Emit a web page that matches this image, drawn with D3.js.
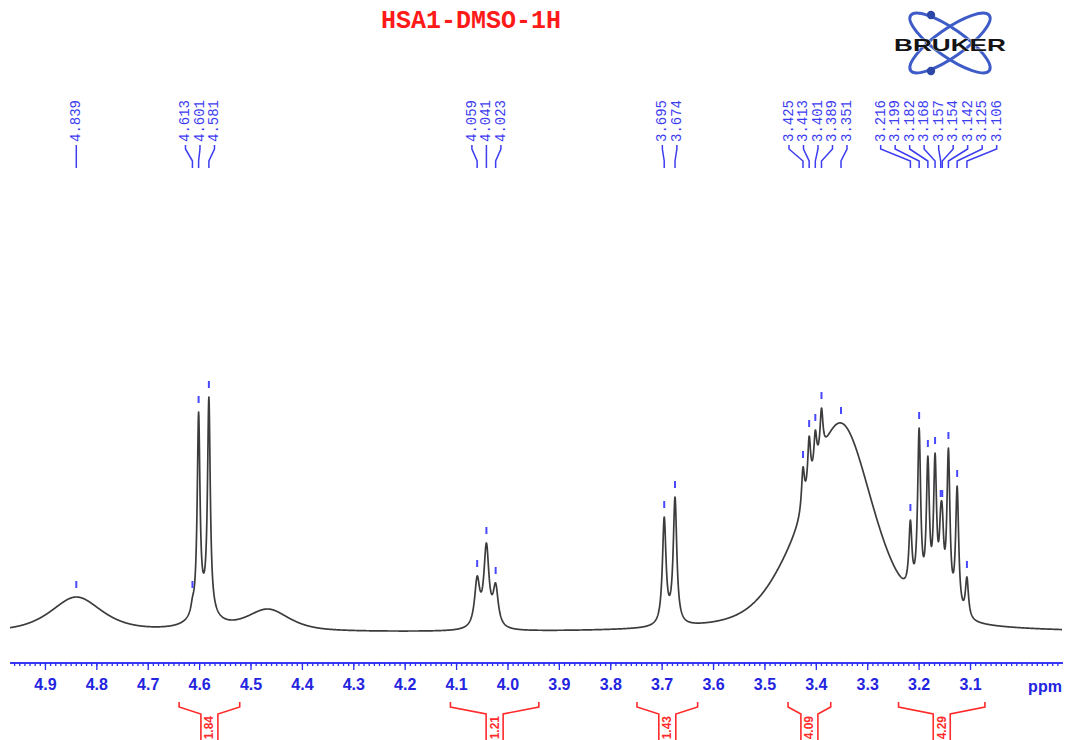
<!DOCTYPE html>
<html><head><meta charset="utf-8">
<script src="https://cdn.jsdelivr.net/npm/d3@7"></script>
<style>body{margin:0;background:#fff}svg{display:block}</style>
</head><body>
<svg id="chart" width="1065" height="740"></svg>
<script>
// ---- 1H NMR peak list (chemical shift in ppm) ----
const peakPpm     = [4.839, 4.613, 4.601, 4.581, 4.466, 4.059, 4.041, 4.023, 3.695, 3.674,
                     3.425, 3.413, 3.401, 3.389, 3.351, 3.216, 3.199, 3.182, 3.168, 3.157,
                     3.154, 3.142, 3.125, 3.106];
// apparent peak heights above baseline (intensity units)
const peakHeight  = [36, 36, 221, 236, 24, 57, 90, 50, 116, 136,
                     166, 197, 203, 225, 210, 113, 205, 177, 180, 127,
                     127, 185, 147, 56];
// half width at half maximum (ppm)
const peakWidth   = [0.06, 0.0035, 0.0032, 0.0032, 0.05, 0.006, 0.006, 0.006, 0.0042, 0.0042,
                     0.0034, 0.0034, 0.0034, 0.0034, 0.075, 0.0036, 0.0036, 0.0036, 0.0036, 0.0036,
                     0.0036, 0.0036, 0.0036, 0.0036];
// Lorentzian fraction of the pseudo-Voigt line shape
const peakEta     = [0.7, 1, 1, 1, 0.7, 1, 1, 1, 1, 1,
                     1, 1, 1, 1, 0.5, 1, 1, 1, 1, 1,
                     1, 1, 1, 1];
const peakLabeled = [true, true, true, true, false, true, true, true, true, true,
                     true, true, true, true, true, true, true, true, true, true,
                     true, true, true, true];

// broad underlying components
const bgPpm   = [4.59, 3.46];
const bgAmp   = [18, 20];
const bgWidth = [0.025, 0.06];
const bgEta   = [1, 0.5];

// integral regions
const integralFrom  = [4.639, 4.111, 3.748, 3.454, 3.239];
const integralTo    = [4.521, 3.939, 3.630, 3.371, 3.071];
const integralValue = ["1.84", "1.21", "1.43", "4.09", "4.29"];

// axis ticks
const majorTicks = [4.9, 4.8, 4.7, 4.6, 4.5, 4.4, 4.3, 4.2, 4.1, 4.0, 3.9, 3.8, 3.7, 3.6, 3.5, 3.4, 3.3, 3.2, 3.1];
const minorTicks = d3.range(293, 497).map(v => v / 100);

const title = "HSA1-DMSO-1H";

// ---- scales ----
const svg = d3.select("#chart");
const x = d3.scaleLinear().domain([4.968, 2.921]).range([10, 1062]);
const y = d3.scaleLinear().domain([0, 250]).range([633, 383]);

function shape(d, w, eta) {
  const r = (d / w) * (d / w);
  return eta / (1 + r) + (1 - eta) * Math.exp(-Math.LN2 * r);
}
function background(p) {
  let s = 0;
  for (let k = 0; k < bgPpm.length; k++) s += bgAmp[k] * shape(p - bgPpm[k], bgWidth[k], bgEta[k]);
  return s;
}

// amplitudes so that the summed spectrum reaches each apparent height at its shift
const n = peakPpm.length;
const M = [];
for (let i = 0; i < n; i++) {
  const row = [];
  for (let j = 0; j < n; j++) row.push(shape(peakPpm[i] - peakPpm[j], peakWidth[j], peakEta[j]));
  row.push(peakHeight[i] - background(peakPpm[i]));
  M.push(row);
}
for (let c = 0; c < n; c++) {
  let piv = c;
  for (let r = c + 1; r < n; r++) if (Math.abs(M[r][c]) > Math.abs(M[piv][c])) piv = r;
  [M[c], M[piv]] = [M[piv], M[c]];
  for (let r = 0; r < n; r++) {
    if (r === c) continue;
    const f = M[r][c] / M[c][c];
    for (let k = c; k <= n; k++) M[r][k] -= f * M[c][k];
  }
}
const amp = M.map((row, i) => row[n] / row[i]);

function spectrum(p) {
  let s = background(p);
  for (let j = 0; j < n; j++) s += amp[j] * shape(p - peakPpm[j], peakWidth[j], peakEta[j]);
  return s;
}

const samples = d3.range(4.968, 2.9205, -0.0005).map(p => [p, spectrum(p)]);

// ---- spectrum ----
svg.append("path")
  .datum(samples)
  .attr("fill", "none")
  .attr("stroke", "#3c3c3c")
  .attr("stroke-width", 1.7)
  .attr("stroke-linejoin", "round")
  .attr("d", d3.line().x(d => x(d[0])).y(d => y(d[1])));

// peak pick markers
const labeled = peakPpm.map((p, i) => ({ p, h: peakHeight[i], on: peakLabeled[i] })).filter(d => d.on);
svg.append("g").selectAll("line").data(labeled).join("line")
  .attr("x1", d => x(d.p)).attr("x2", d => x(d.p))
  .attr("y1", d => y(d.h) - 16).attr("y2", d => y(d.h) - 9)
  .attr("stroke", "#4848ff").attr("stroke-width", 2);

// ---- peak labels, spread into non-overlapping clusters ----
const gap = 14.5;
let clusters = labeled.map(d => ({ members: [d], center: x(d.p) }))
  .sort((a, b) => a.center - b.center);
let merged = true;
while (merged) {
  merged = false;
  for (let i = 0; i < clusters.length - 1; i++) {
    const a = clusters[i], b = clusters[i + 1];
    const aRight = a.center + (a.members.length - 1) * gap / 2;
    const bLeft = b.center - (b.members.length - 1) * gap / 2;
    if (bLeft - aRight < gap) {
      const members = a.members.concat(b.members);
      clusters.splice(i, 2, { members, center: d3.mean(members, m => x(m.p)) });
      merged = true;
      break;
    }
  }
}
const labelPos = [];
clusters.forEach(c => {
  const k = c.members.length;
  c.members.forEach((m, i) => labelPos.push({ p: m.p, lx: c.center + (i - (k - 1) / 2) * gap }));
});

const lab = svg.append("g");
lab.selectAll("path").data(labelPos).join("path")
  .attr("fill", "none").attr("stroke", "#3c3cf0").attr("stroke-width", 1.5)
  .attr("d", d => `M${d.lx},145 L${d.lx},149 L${x(d.p)},161 L${x(d.p)},168`);
lab.selectAll("text").data(labelPos).join("text")
  .attr("transform", d => `translate(${d.lx},142) rotate(-90)`)
  .attr("dominant-baseline", "central")
  .attr("font-family", "'Liberation Mono', 'Courier New', monospace")
  .attr("font-size", 14)
  .attr("fill", "#3c3cf0")
  .text(d => d3.format(".3f")(d.p));

// ---- ppm axis ----
const axisY = 663;
const gMinor = svg.append("g").attr("transform", `translate(0,${axisY})`)
  .call(d3.axisBottom(x).tickValues(minorTicks).tickSize(3).tickSizeOuter(0).tickFormat(""));
const gMajor = svg.append("g").attr("transform", `translate(0,${axisY})`)
  .call(d3.axisBottom(x).tickValues(majorTicks).tickSize(7).tickSizeOuter(0).tickPadding(9)
        .tickFormat(d3.format(".1f")));
[gMinor, gMajor].forEach(g => {
  g.select(".domain").attr("stroke", "#2c2cf0").attr("stroke-width", 1.5)
    .attr("d", `M10,0H1063`);
  g.selectAll(".tick line").attr("stroke", "#2c2cf0").attr("stroke-width", 1.3);
});
gMajor.selectAll(".tick text")
  .attr("fill", "#2323e0")
  .attr("font-family", "'Liberation Sans', Arial, sans-serif")
  .attr("font-weight", "bold")
  .attr("font-size", 16);
svg.append("text")
  .attr("x", 1045).attr("y", 692).attr("text-anchor", "middle")
  .attr("fill", "#2323e0")
  .attr("font-family", "'Liberation Sans', Arial, sans-serif")
  .attr("font-weight", "bold").attr("font-size", 16)
  .text("ppm");

// ---- integrals ----
const ig = svg.append("g");
integralFrom.forEach((from, i) => {
  const x0 = x(from), x1 = x(integralTo[i]), cx = (x0 + x1) / 2, hw = 8.5;
  ig.append("path")
    .attr("fill", "none").attr("stroke", "#ff2a2a").attr("stroke-width", 1.6)
    .attr("d", `M${x0},702 L${x0},707 L${cx - hw},714 L${cx - hw},745 M${x1},702 L${x1},707 L${cx + hw},714 L${cx + hw},745`);
  ig.append("text")
    .attr("transform", `translate(${cx},716) rotate(-90)`)
    .attr("text-anchor", "end").attr("dominant-baseline", "central")
    .attr("fill", "#ff2a2a")
    .attr("font-family", "'Liberation Sans', Arial, sans-serif")
    .attr("font-weight", "bold").attr("font-size", 12)
    .text(integralValue[i]);
});

// ---- title ----
svg.append("text")
  .attr("x", 471).attr("y", 28).attr("text-anchor", "middle")
  .attr("fill", "#ff1a1a")
  .attr("font-family", "'Liberation Mono', 'Courier New', monospace")
  .attr("font-weight", "bold").attr("font-size", 25)
  .text(title);

// ---- logo ----
const logo = svg.append("g").attr("transform", "translate(950,43)");
[35, -35].forEach(a => logo.append("ellipse")
  .attr("rx", 48).attr("ry", 14).attr("transform", `rotate(${a})`)
  .attr("fill", "none").attr("stroke", "#3d5cc8").attr("stroke-width", 3));
[[-19, -28], [-19, 28]].forEach(([cx, cy]) => logo.append("circle")
  .attr("cx", cx).attr("cy", cy).attr("r", 4.2).attr("fill", "#2d47a8"));
logo.append("text")
  .attr("x", -56).attr("y", 7.5)
  .attr("textLength", 112).attr("lengthAdjust", "spacingAndGlyphs")
  .attr("font-family", "'Liberation Sans', Arial, sans-serif")
  .attr("font-weight", "bold").attr("font-size", 17)
  .attr("fill", "#141414").attr("stroke", "#fff").attr("stroke-width", 0.6).attr("paint-order", "stroke")
  .text("BRUKER");
</script>
</body></html>
